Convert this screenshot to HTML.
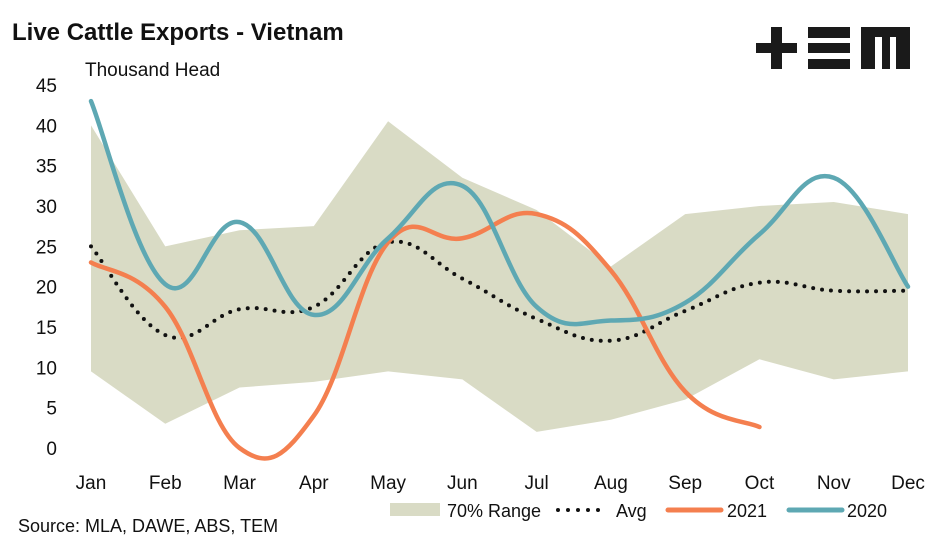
<!DOCTYPE html>
<html><head><meta charset="utf-8"><style>
body{margin:0;background:#fff;}
svg{display:block;font-family:"Liberation Sans",sans-serif;}
</style></head><body>
<svg width="945" height="543">
<text x="12" y="40" font-size="24" font-weight="bold" fill="#111">Live Cattle Exports - Vietnam</text>
<text x="85" y="76" font-size="19" fill="#111">Thousand Head</text>
<g fill="#1a1a1a">
<rect x="756" y="43" width="41" height="10"/><rect x="771" y="27" width="11" height="42"/>
<rect x="808" y="27" width="42" height="11"/><rect x="808" y="43" width="42" height="10"/><rect x="808" y="59" width="42" height="10"/>
<path d="M861 27H910V69H896V37H890V69H882V37H875V69H861Z"/>
</g>
<g id="yaxis"></g>
<g id="xaxis"></g>
<g id="plot"></g>
<text x="18" y="532" font-size="18" fill="#111">Source: MLA, DAWE, ABS, TEM</text>
<g font-size="18" fill="#111">
<rect x="390" y="503" width="50" height="13" fill="#d9dbc5"/>
<text x="447" y="517">70% Range</text>
<line x1="558" y1="510" x2="608" y2="510" stroke="#111" stroke-width="4" stroke-linecap="round" stroke-dasharray="0 10"/>
<text x="616" y="517">Avg</text>
<line x1="668" y1="510" x2="721" y2="510" stroke="#f47f4f" stroke-width="5" stroke-linecap="round"/>
<text x="727" y="517">2021</text>
<line x1="789" y1="510" x2="842" y2="510" stroke="#5ea8b3" stroke-width="5" stroke-linecap="round"/>
<text x="847" y="517">2020</text>
</g>
</svg>
<script>
const months=["Jan","Feb","Mar","Apr","May","Jun","Jul","Aug","Sep","Oct","Nov","Dec"];
const yTicks=[0,5,10,15,20,25,30,35,40,45];
const rangeUpper=[40,25,27,27.5,40.5,33.5,29.5,22.5,29,30,30.5,29];
const rangeLower=[9.5,3,7.5,8.2,9.5,8.5,2,3.5,6,11,8.5,9.5];
const avg=[25,14,17.2,17.5,25.5,21,16,13.3,17,20.5,19.5,19.5];
const s2021=[23,17.5,0,4,25.5,26,29,22,7,2.6];
const s2020=[43,20.3,28,16.5,26,32.5,17.5,15.8,18,26.5,33.5,20];
const NS="http://www.w3.org/2000/svg";
const x=i=>91+i*(817/11);
const y=v=>448-v*(363/45);
function mk(tag,attrs,parent){const e=document.createElementNS(NS,tag);for(const k in attrs)e.setAttribute(k,attrs[k]);parent.appendChild(e);return e;}
function smooth(pts){let d="M"+pts[0][0]+" "+pts[0][1];for(let i=0;i<pts.length-1;i++){const p0=pts[i-1]||pts[i],p1=pts[i],p2=pts[i+1],p3=pts[i+2]||p2;const t=0.2;
d+=" C"+(p1[0]+(p2[0]-p0[0])*t)+" "+(p1[1]+(p2[1]-p0[1])*t)+" "+(p2[0]-(p3[0]-p1[0])*t)+" "+(p2[1]-(p3[1]-p1[1])*t)+" "+p2[0]+" "+p2[1];}return d;}
const ya=document.getElementById('yaxis'),xa=document.getElementById('xaxis'),plot=document.getElementById('plot');
yTicks.forEach(v=>{const t=mk('text',{x:57,y:y(v)+7,'font-size':19,fill:'#111','text-anchor':'end'},ya);t.textContent=v;

});
months.forEach((m,i)=>{const t=mk('text',{x:x(i),y:489,'font-size':19,fill:'#111','text-anchor':'middle'},xa);t.textContent=m;

});
let pd="M"+rangeUpper.map((v,i)=>x(i)+" "+y(v)).join(" L");
for(let i=rangeLower.length-1;i>=0;i--)pd+=" L"+x(i)+" "+y(rangeLower[i]);
const area=mk('path',{d:pd+"Z",fill:'#d9dbc5'},plot);


const a=mk('path',{d:smooth(avg.map((v,i)=>[x(i),y(v)])),fill:'none',stroke:'#111','stroke-width':4,'stroke-linecap':'round','stroke-dasharray':'0 9'},plot);


const l1=mk('path',{d:smooth(s2021.map((v,i)=>[x(i),y(v)])),fill:'none',stroke:'#f47f4f','stroke-width':4.5,'stroke-linecap':'round'},plot);


const l2=mk('path',{d:smooth(s2020.map((v,i)=>[x(i),y(v)])),fill:'none',stroke:'#5ea8b3','stroke-width':4.5,'stroke-linecap':'round'},plot);


</script>
</body></html>
